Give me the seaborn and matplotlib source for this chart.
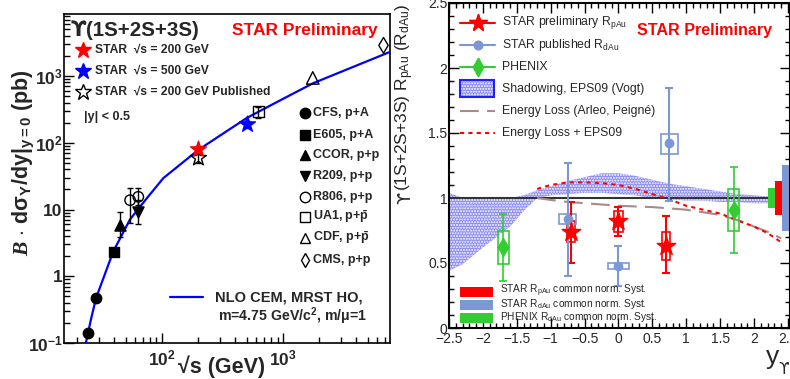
import matplotlib
matplotlib.use("Agg")
import matplotlib.pyplot as plt
from matplotlib.lines import Line2D
from matplotlib.patches import Rectangle
from matplotlib.ticker import FixedLocator, LogLocator, MultipleLocator, NullFormatter
import seaborn as sns

# ---------------- Upsilon cross section vs sqrt(s) ----------------
cfs_rs, cfs_xs = [24.6, 28.5], [0.14, 0.47]
e605_rs, e605_xs = [40.0], [2.28]
ccor_rs, ccor_xs = [45.0], [5.96]
ccor_lo, ccor_hi = [3.9], [9.1]
r209_rs, r209_xs = [63.0], [9.1]
r209_lo, r209_hi = [6.0], [14.0]
r806_rs, r806_xs = [54.5, 63.7], [13.8, 15.5]
r806_lo, r806_hi = [6.3, 11.5], [21.0, 21.0]
ua1_rs, ua1_xs = [625.0], [295.0]
ua1_lo, ua1_hi = [235.0], [340.0]
cdf_rs, cdf_xs = [1760.0], [937.0]
cms_rs, cms_xs = [6760.0], [2880.0]
star200_rs, star200_xs = [200.0], [80.0]
star200_lo, star200_hi = [71.0], [89.0]
star500_rs, star500_xs = [500.0], [191.0]
star500_lo, star500_hi = [165.0], [215.0]
starpub_rs, starpub_xs = [200.0], [59.0]
starpub_lo, starpub_hi = [50.0], [68.0]
nlo_rs = [23.5, 25.8, 28.5, 39.6, 54.4, 74.8, 102.5, 200.0, 501.0, 914.0, 1770.0, 7650.0]
nlo_xs = [0.1, 0.22, 0.47, 2.36, 7.1, 14.7, 29.5, 78.5, 235.0, 418.0, 780.0, 2300.0]

# ---------------- nuclear modification factor vs rapidity ----------------
pau_y = [-0.7, 0.0, 0.7]
pau_r = [0.74, 0.82, 0.63]
pau_stat_lo = [0.24, 0.11, 0.21]
pau_stat_hi = [0.23, 0.11, 0.23]
pau_syst = [0.08, 0.08, 0.11]

dau_y = [-0.75, 0.0, 0.75]
dau_r = [0.84, 0.48, 1.42]
dau_stat_lo = [0.44, 0.16, 0.44]
dau_stat_hi = [0.43, 0.15, 0.43]
dau_syst_lo = [0.04, 0.025, 0.08]
dau_syst_hi = [0.04, 0.02, 0.07]

phx_y = [-1.7, 1.7]
phx_r = [0.62, 0.91]
phx_stat = [0.26, 0.33]
phx_syst = [0.13, 0.16]

band_y = [-2.5, -2.3, -2.0, -1.6, -1.4, -1.2, -1.0, -0.75, -0.5, -0.25, 0.0,
          0.25, 0.5, 0.75, 1.0, 1.25, 1.5, 1.75, 2.0, 2.25, 2.5]
band_hi = [1.04, 1.00, 1.00, 1.00, 1.02, 1.06, 1.09, 1.13, 1.16, 1.19, 1.19,
           1.17, 1.14, 1.11, 1.09, 1.07, 1.05, 1.03, 1.02, 1.01, 1.01]
band_lo = [0.44, 0.49, 0.62, 0.78, 0.90, 1.00, 1.02, 1.03, 1.04, 1.04, 1.03,
           1.02, 1.00, 0.99, 0.98, 0.98, 0.97, 0.97, 0.96, 0.96, 0.96]

eloss_y = [-1.2, -1.0, -0.75, -0.5, -0.25, 0.0, 0.25, 0.5, 0.75, 1.0, 1.25,
           1.5, 1.75, 2.0, 2.2, 2.4]
eloss_r = [1.0, 0.985, 0.97, 0.96, 0.95, 0.94, 0.935, 0.93, 0.92, 0.91, 0.89,
           0.87, 0.83, 0.78, 0.74, 0.69]
eloss_eps_r = [1.07, 1.10, 1.12, 1.12, 1.115, 1.10, 1.07, 1.03, 0.99, 0.94, 0.91,
               0.88, 0.83, 0.78, 0.73, 0.66]

norm_syst = [0.08, 0.13, 0.255]   # PHENIX dAu, STAR pAu, STAR dAu

RED = "#ff0000"
BLUE = "#0000ff"
DAU = "#7b98d4"
GREEN = "#33cc33"
BAND = "#8a8af4"
ELOSS = "#a88a8a"

sns.set_theme(style="ticks")
plt.rcParams["font.family"] = ["Liberation Sans", "DejaVu Sans"]
plt.rcParams["mathtext.fontset"] = "custom"
plt.rcParams["mathtext.rm"] = "Liberation Sans"
plt.rcParams["mathtext.bf"] = "Liberation Sans:bold"
plt.rcParams["mathtext.it"] = "Liberation Sans:italic"
plt.rcParams["mathtext.cal"] = "Liberation Serif:italic:bold"
plt.rcParams["hatch.linewidth"] = 1.0

W, H = 790, 379
fig = plt.figure(figsize=(W / 100, H / 100), dpi=100)


def P(x, y):
    return x / W, 1 - y / H


# ======================= left panel =======================
axL = fig.add_axes([64 / W, 1 - 343 / H, (390 - 64) / W, (343 - 14) / H])
axL.set_xscale("log")
axL.set_yscale("log")
axL.set_xlim(15.5, 7650)
axL.set_ylim(0.1, 8500)

sns.lineplot(x=nlo_rs, y=nlo_xs, ax=axL, color=BLUE, lw=1.6, sort=False,
             estimator=None, zorder=3)


def errs(ax, x, y, lo, hi, color="black", lw=1.0, cap=2):
    ax.errorbar(x, y, yerr=[[v - l for v, l in zip(y, lo)], [h - v for v, h in zip(y, hi)]],
                fmt="none", ecolor=color, elinewidth=lw, capsize=cap, capthick=lw, zorder=4)


def pts(ax, x, y, marker, size, face, edge="black", lw=1.0, z=6):
    sns.scatterplot(x=x, y=y, ax=ax, marker=marker, s=size ** 2, color=face,
                    edgecolor=edge, linewidth=lw, zorder=z, legend=False)


errs(axL, ccor_rs, ccor_xs, ccor_lo, ccor_hi)
errs(axL, r209_rs, r209_xs, r209_lo, r209_hi)
errs(axL, r806_rs, r806_xs, r806_lo, r806_hi)
errs(axL, ua1_rs, ua1_xs, ua1_lo, ua1_hi)
errs(axL, star200_rs, star200_xs, star200_lo, star200_hi)
errs(axL, star500_rs, star500_xs, star500_lo, star500_hi)
errs(axL, starpub_rs, starpub_xs, starpub_lo, starpub_hi)

pts(axL, cfs_rs, cfs_xs, "o", 7.5, "black")
pts(axL, e605_rs, e605_xs, "s", 7, "black")
pts(axL, ccor_rs, ccor_xs, "^", 8, "black")
pts(axL, r209_rs, r209_xs, "v", 8, "black")
pts(axL, r806_rs, r806_xs, "o", 7.5, "none")
pts(axL, ua1_rs, ua1_xs, "s", 7.5, "none")
pts(axL, cdf_rs, cdf_xs, "^", 9, "none")
pts(axL, cms_rs, cms_xs, "d", 8, "none")
pts(axL, starpub_rs, starpub_xs, "*", 12, "none")
pts(axL, star200_rs, star200_xs, "*", 12, RED, edge=RED)
pts(axL, star500_rs, star500_xs, "*", 12, BLUE, edge=BLUE)

axL.xaxis.set_major_locator(FixedLocator([100, 1000]))
axL.set_xticklabels([r"$\mathbf{10^{2}}$", r"$\mathbf{10^{3}}$"])
axL.xaxis.set_minor_locator(LogLocator(base=10, subs=range(2, 10)))
axL.xaxis.set_minor_formatter(NullFormatter())
axL.yaxis.set_major_locator(FixedLocator([0.1, 1, 10, 100, 1000]))
axL.set_yticklabels([r"$\mathbf{10^{-1}}$", "1", "10", r"$\mathbf{10^{2}}$", r"$\mathbf{10^{3}}$"])
axL.yaxis.set_minor_locator(LogLocator(base=10, subs=range(2, 10)))
axL.yaxis.set_minor_formatter(NullFormatter())
axL.tick_params(which="both", direction="in", color="black", width=1.0)
axL.tick_params(which="major", length=7, labelsize=12.5)
axL.tick_params(which="minor", length=4)
axL.tick_params(axis="y", pad=1)
axL.tick_params(axis="x", pad=4)
for lab in axL.get_xticklabels() + axL.get_yticklabels():
    lab.set_fontweight("bold")
for s in axL.spines.values():
    s.set_linewidth(1.2)
    s.set_color("black")

fig.text(*P(24, 163), r"$\mathcal{B}$ $\mathbf{\cdot\ d\sigma_{\Upsilon}/dy|_{y=0}}$ (pb)",
         rotation=90, ha="center", va="center", fontsize=15.5, fontweight="bold")
fig.text(*P(222, 367), "√s (GeV)", ha="center", va="center", fontsize=15.5, fontweight="bold")

fig.text(*P(71, 30), "ϒ", ha="left", va="center", fontsize=15, fontweight="bold",
         family="DejaVu Sans")
fig.text(*P(86, 30), "(1S+2S+3S)", ha="left", va="center", fontsize=14.8, fontweight="bold")
fig.text(*P(232, 30), "STAR Preliminary", ha="left", va="center", fontsize=12.5,
         fontweight="bold", color=RED)

star_leg = [(50, RED, RED, "STAR  √s = 200 GeV"),
            (71, BLUE, BLUE, "STAR  √s = 500 GeV"),
            (92, "none", "black", "STAR  √s = 200 GeV Published")]
for yy, fc, ec, txt in star_leg:
    fig.add_artist(Line2D([P(83, yy)[0]], [P(83, yy)[1]], marker="*", ms=12,
                          mfc=fc, mec=ec, mew=1.0, ls="none", transform=fig.transFigure))
    fig.text(*P(95, yy), txt, ha="left", va="center", fontsize=8.7, fontweight="bold")
fig.text(*P(84, 117), "|y| < 0.5", ha="left", va="center", fontsize=9, fontweight="bold")

exp_leg = [(113, "o", "black", "CFS, p+A"),
           (135, "s", "black", "E605, p+A"),
           (155, "^", "black", "CCOR, p+p"),
           (176, "v", "black", "R209, p+p"),
           (197, "o", "none", "R806, p+p"),
           (217, "s", "none", r"UA1, p+$\mathbf{\bar{p}}$"),
           (238, "^", "none", r"CDF, p+$\mathbf{\bar{p}}$"),
           (260, "d", "none", "CMS, p+p")]
for yy, mk, fc, txt in exp_leg:
    fig.add_artist(Line2D([P(305, yy)[0]], [P(305, yy)[1]], marker=mk, ms=7.5,
                          mfc=fc, mec="black", mew=1.0, ls="none", transform=fig.transFigure))
    fig.text(*P(313, yy), txt, ha="left", va="center", fontsize=9, fontweight="bold")

x0, y0 = P(170, 297)
x1, _ = P(203, 297)
fig.add_artist(Line2D([x0, x1], [y0, y0], color=BLUE, lw=1.6, transform=fig.transFigure))
fig.text(*P(215, 297), "NLO CEM, MRST HO,", ha="left", va="center", fontsize=10.5,
         fontweight="bold")
fig.text(*P(218, 316), r"m=4.75 GeV/c$\mathbf{^{2}}$, m/$\mathbf{\mu}$=1", ha="left",
         va="center", fontsize=10.2, fontweight="bold")

# ======================= right panel =======================
axR = fig.add_axes([449 / W, 1 - 328 / H, (790 - 449) / W, (328 - 3) / H])
axR.set_xlim(-2.5, 2.53)
axR.set_ylim(0, 2.5)

axR.fill_between(band_y, band_lo, band_hi, facecolor=BAND, edgecolor="white",
                 hatch="......", linewidth=0, zorder=1)
axR.axhline(1.0, color="#333333", lw=1.5, zorder=2)
sns.lineplot(x=eloss_y, y=eloss_r, ax=axR, color=ELOSS, lw=1.5, sort=False,
             estimator=None, linestyle=(0, (9, 4)), zorder=3)
sns.lineplot(x=eloss_y, y=eloss_eps_r, ax=axR, color=RED, lw=1.5, sort=False,
             estimator=None, linestyle=(0, (2, 2)), zorder=3)

# point-to-point systematic boxes
for yv, rv, sy in zip(pau_y, pau_r, pau_syst):
    axR.add_patch(Rectangle((yv - 0.06, rv - sy), 0.12, 2 * sy, fill=False,
                            edgecolor=RED, lw=1.2, zorder=4))
for yv, rv, slo, shi, hw in zip(dau_y, dau_r, dau_syst_lo, dau_syst_hi, [0.13, 0.15, 0.13]):
    axR.add_patch(Rectangle((yv - hw, rv - slo), 2 * hw, slo + shi, fill=False,
                            edgecolor=DAU, lw=1.2, zorder=4))
for yv, rv, sy in zip(phx_y, phx_r, phx_syst):
    axR.add_patch(Rectangle((yv - 0.08, rv - sy), 0.16, 2 * sy, fill=False,
                            edgecolor=GREEN, lw=1.2, zorder=4))

axR.errorbar(pau_y, pau_r, yerr=[pau_stat_lo, pau_stat_hi], fmt="none", ecolor=RED,
             elinewidth=1.5, capsize=3, capthick=1.5, zorder=5)
axR.errorbar(dau_y, dau_r, yerr=[dau_stat_lo, dau_stat_hi], fmt="none", ecolor=DAU,
             elinewidth=1.5, capsize=3, capthick=1.5, zorder=5)
axR.errorbar(phx_y, phx_r, yerr=[phx_stat, phx_stat], fmt="none", ecolor=GREEN,
             elinewidth=1.2, capsize=3, capthick=1.2, zorder=5)

pts(axR, dau_y, dau_r, "o", 6, DAU, edge=DAU, z=6)
pts(axR, phx_y, phx_r, "d", 9, GREEN, edge=GREEN, z=6)
pts(axR, pau_y, pau_r, "*", 14, RED, edge=RED, z=7)

# global normalisation uncertainties
axR.bar([2.255, 2.36, 2.465], [2 * s for s in norm_syst],
        bottom=[1 - s for s in norm_syst], width=[0.11, 0.10, 0.11],
        color=[GREEN, RED, DAU], linewidth=0, zorder=8)

axR.xaxis.set_minor_locator(MultipleLocator(0.1))
axR.yaxis.set_minor_locator(MultipleLocator(0.1))
axR.set_xticks([-2.5, -2, -1.5, -1, -0.5, 0, 0.5, 1, 1.5, 2, 2.5])
axR.set_xticklabels(["\u22122.5", "\u22122", "\u22121.5", "\u22121", "\u22120.5", "0",
                     "0.5", "1", "1.5", "2", "2.5"])
axR.set_yticks([0, 0.5, 1, 1.5, 2, 2.5])
axR.set_yticklabels(["0", "0.5", "1", "1.5", "2", "2.5"])
axR.tick_params(which="both", direction="in", top=True, right=True, color="black", width=1.0)
axR.tick_params(which="major", length=7, labelsize=10)
axR.tick_params(which="minor", length=3.5)
axR.tick_params(axis="y", pad=1)
axR.tick_params(axis="x", pad=3)
for s in axR.spines.values():
    s.set_linewidth(1.5)
    s.set_color("black")

# rotated y title: hooked upsilon glyph set after the rest of the title
renderer = fig.canvas.get_renderer()
ytitle = fig.text(*P(405, 4), r"(1S+2S+3S) R$_{\mathrm{pAu}}$ (R$_{\mathrm{dAu}}$)",
                  rotation=90, ha="center", va="top", fontsize=12.5)
bb = ytitle.get_window_extent(renderer)
fig.text(405 / W, bb.y0 / H, "ϒ", rotation=90, ha="center", va="top", fontsize=12.5,
         family="DejaVu Sans")

fig.text(*P(766, 357), "y", ha="left", va="center", fontsize=19)
fig.text(*P(778, 369), "ϒ", ha="left", va="center", fontsize=11, family="DejaVu Sans")
fig.text(*P(637, 31), "STAR Preliminary", ha="left", va="center", fontsize=11.6,
         fontweight="bold", color=RED)

lx0, lx1, lxm = 460, 495, 477.5
leg_rows = [23, 45, 67, 89, 111, 133]


def fline(xa, xb, yy, **kw):
    a = P(xa, yy)
    b = P(xb, yy)
    fig.add_artist(Line2D([a[0], b[0]], [a[1], b[1]], transform=fig.transFigure, **kw))


fline(lx0, lx1, leg_rows[0], color=RED, lw=1.5)
fline(lxm, lxm, leg_rows[0], marker="*", ms=13, color=RED, ls="none")
fline(lx0, lx1, leg_rows[1], color=DAU, lw=1.5)
fline(lxm, lxm, leg_rows[1], marker="o", ms=6, color=DAU, ls="none")
fline(lx0, lx1, leg_rows[2], color=GREEN, lw=1.5)
fline(lxm, lxm, leg_rows[2], marker="d", ms=9, color=GREEN, ls="none")
bx, by = P(460, 97)
bw, bh = 34 / W, 17 / H
fig.add_artist(Rectangle((bx, by), bw, bh, transform=fig.transFigure, facecolor=BAND,
                         edgecolor="white", hatch="......", linewidth=0))
fig.add_artist(Rectangle((bx, by), bw, bh, transform=fig.transFigure, fill=False,
                         edgecolor="#2020ff", linewidth=1.5))
fline(lx0, lx1, leg_rows[4], color=ELOSS, lw=1.5, linestyle=(0, (9, 4)))
fline(lx0, lx1, leg_rows[5], color=RED, lw=1.5, linestyle=(0, (2, 2)))

leg_txt = [r"STAR preliminary R$_{\mathrm{pAu}}$", r"STAR published R$_{\mathrm{dAu}}$",
           "PHENIX", "Shadowing, EPS09 (Vogt)", "Energy Loss (Arleo, Peigné)",
           "Energy Loss + EPS09"]
for yy, txt in zip(leg_rows, leg_txt):
    fig.text(*P(502, yy), txt, ha="left", va="center", fontsize=8.8)

norm_leg = [(292, RED, r"STAR R$_{\mathrm{pAu}}$ common norm. Syst."),
            (305, DAU, r"STAR R$_{\mathrm{dAu}}$ common norm. Syst."),
            (318, GREEN, r"PHENIX R$_{\mathrm{dAu}}$ common norm. Syst.")]
for yy, col, txt in norm_leg:
    rx, ry = P(460, yy + 5)
    fig.add_artist(Rectangle((rx, ry), 33 / W, 10 / H, transform=fig.transFigure,
                             facecolor=col, edgecolor="none"))
    fig.text(*P(500, yy - 1), txt, ha="left", va="center", fontsize=7.3)

fig.savefig("out.png", dpi=100)
